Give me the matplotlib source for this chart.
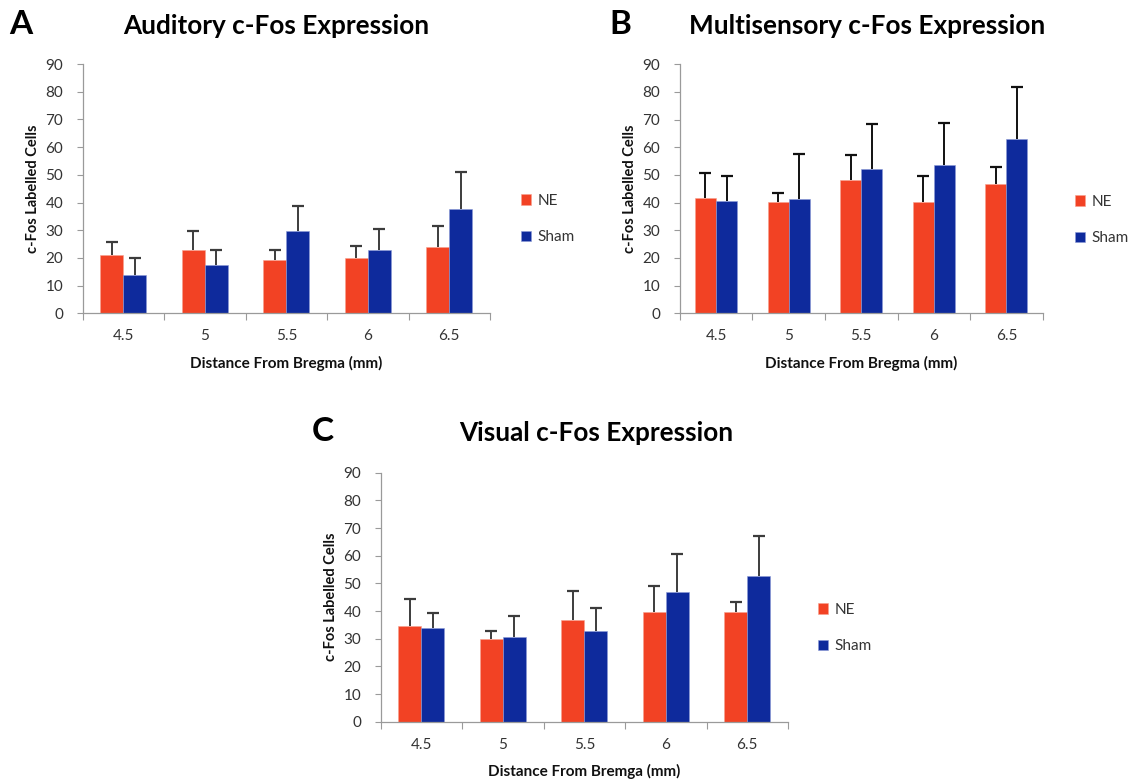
import numpy as np
import matplotlib
matplotlib.use('Agg')
import matplotlib.pyplot as plt
from matplotlib.patches import Patch

plt.rcParams['font.family'] = ['Lato', 'DejaVu Sans']

# ----------------------------------------------------------------
# Data
# ----------------------------------------------------------------
distance = ['4.5', '5', '5.5', '6', '6.5']
groups = ['NE', 'Sham']

aud_ne = [21.1, 22.7, 19.1, 20.0, 24.1]
aud_ne_err = [4.8, 7.0, 3.6, 4.2, 7.5]
aud_sham = [13.9, 17.6, 29.7, 22.8, 37.5]
aud_sham_err = [6.1, 5.4, 9.0, 7.6, 13.4]

multi_ne = [41.8, 40.1, 48.2, 40.4, 46.6]
multi_ne_err = [8.8, 3.5, 9.0, 9.4, 6.2]
multi_sham = [40.5, 41.4, 52.0, 53.6, 63.1]
multi_sham_err = [9.3, 16.3, 16.4, 15.3, 18.6]

vis_ne = [34.6, 30.0, 36.6, 39.5, 39.5]
vis_ne_err = [9.6, 2.8, 10.6, 9.7, 3.9]
vis_sham = [33.7, 30.5, 32.8, 47.0, 52.5]
vis_sham_err = [5.6, 7.6, 8.2, 13.7, 14.8]

# ----------------------------------------------------------------
# Style
# ----------------------------------------------------------------
W, H = 1132, 784
NE_COLOR = '#F24224'
SHAM_COLOR = '#0E2A9C'
AXIS_COLOR = '#9A9A9A'
TEXT_COLOR = '#333333'

fig = plt.figure(figsize=(W / 100, H / 100), dpi=100)


def px_axes(left, top, right, bottom):
    return fig.add_axes([left / W, 1 - bottom / H, (right - left) / W, (bottom - top) / H])


def draw_panel(ax, ne, ne_err, sham, sham_err, xlabel, err_color, bar_w):
    x = np.arange(len(distance))
    ax.bar(x - bar_w / 2, ne, bar_w, color=NE_COLOR, edgecolor='#F7A08F', linewidth=0.4, zorder=2)
    ax.bar(x + bar_w / 2, sham, bar_w, color=SHAM_COLOR, edgecolor='#8C9BD6', linewidth=0.4, zorder=2)

    # upper-only error bars
    for xs, vals, errs in [(x - bar_w / 2, ne, ne_err), (x + bar_w / 2, sham, sham_err)]:
        vals = np.array(vals)
        tops = vals + np.array(errs)
        ax.vlines(xs, vals, tops, color=err_color, linewidth=1.4, zorder=3)
        ax.plot(xs, tops, linestyle='none', marker='_', markersize=8,
                markeredgewidth=1.6, color=err_color, zorder=3)

    ax.set_xlim(-0.5, len(distance) - 0.5)
    ax.set_ylim(0, 90)
    ax.set_yticks(np.arange(0, 91, 10))
    ax.set_xticks(np.arange(-0.5, len(distance), 1.0))
    ax.set_xticklabels([])
    ax.set_xticks(x, minor=True)
    ax.set_xticklabels(distance, minor=True)
    ax.tick_params(axis='x', which='major', length=5, width=0.8, color=AXIS_COLOR, direction='out')
    ax.tick_params(axis='x', which='minor', length=0, pad=11.5, labelsize=11, labelcolor=TEXT_COLOR)
    ax.tick_params(axis='y', length=4, width=0.8, color=AXIS_COLOR, pad=10,
                   labelsize=11, labelcolor=TEXT_COLOR)

    for side in ['top', 'right']:
        ax.spines[side].set_visible(False)
    for side in ['left', 'bottom']:
        ax.spines[side].set_color(AXIS_COLOR)
        ax.spines[side].set_linewidth(0.9)

    ax.set_ylabel('c-Fos Labelled Cells', fontsize=10.5, fontweight='bold', color='#111111', labelpad=4)
    ax.set_xlabel(xlabel, fontsize=11, fontweight='bold', color='#111111', labelpad=9)


def draw_legend(ax, x_px, y_px):
    handles = [Patch(facecolor=NE_COLOR, edgecolor='#F7A08F', linewidth=0.4),
               Patch(facecolor=SHAM_COLOR, edgecolor='#8C9BD6', linewidth=0.4)]
    ax.legend(handles, groups, loc='center left', bbox_to_anchor=(x_px / W, 1 - y_px / H),
              bbox_transform=fig.transFigure, frameon=False, fontsize=11,
              handlelength=0.65, handleheight=0.65, handletextpad=0.45,
              labelspacing=1.45, borderpad=0, borderaxespad=0, labelcolor=TEXT_COLOR)


# Panel A
ax_a = px_axes(82.7, 64, 490, 313.3)
draw_panel(ax_a, aud_ne, aud_ne_err, aud_sham, aud_sham_err,
           'Distance From Bregma (mm)', '#3C3C3C', 0.283)
draw_legend(ax_a, 521, 219)

# Panel B
ax_b = px_axes(679.7, 64.3, 1042.7, 313.3)
draw_panel(ax_b, multi_ne, multi_ne_err, multi_sham, multi_sham_err,
           'Distance From Bregma (mm)', '#111111', 0.29)
draw_legend(ax_b, 1075, 220)

# Panel C
ax_c = px_axes(380.7, 472.7, 788, 721.7)
draw_panel(ax_c, vis_ne, vis_ne_err, vis_sham, vis_sham_err,
           'Distance From Bremga (mm)', '#3C3C3C', 0.283)
draw_legend(ax_c, 818, 628)

# Titles and panel letters
fig.text(276 / W, 1 - 26 / H, 'Auditory c-Fos Expression', ha='center', va='center',
         fontsize=18.8, fontweight='bold')
fig.text(867 / W, 1 - 26 / H, 'Multisensory c-Fos Expression', ha='center', va='center',
         fontsize=18.8, fontweight='bold')
fig.text(596 / W, 1 - 433 / H, 'Visual c-Fos Expression', ha='center', va='center',
         fontsize=18.8, fontweight='bold')
fig.text(21 / W, 1 - 24 / H, 'A', ha='center', va='center', fontsize=24, fontweight='bold')
fig.text(620 / W, 1 - 24 / H, 'B', ha='center', va='center', fontsize=24, fontweight='bold')
fig.text(323 / W, 1 - 432 / H, 'C', ha='center', va='center', fontsize=24, fontweight='bold')

fig.savefig('out.png', dpi=100)
